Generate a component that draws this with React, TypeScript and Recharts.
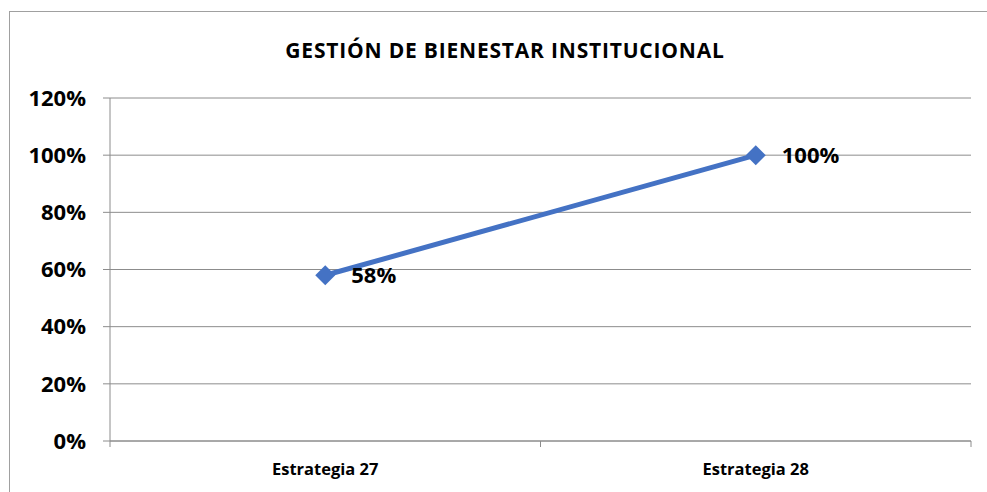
import { LineChart, Line, XAxis, YAxis, CartesianGrid, LabelList } from 'recharts';

const categories = ['Estrategia 27', 'Estrategia 28'];
const values = [0.58, 1.0];
const yTicks = [0, 0.2, 0.4, 0.6, 0.8, 1.0, 1.2];

const data = categories.map((name, i) => ({ name, value: values[i] }));

const FONT = '"Open Sans", "Liberation Sans", sans-serif';
const GRID = '#8c8c8c';
const BLUE = '#4472C4';
const PLOT_W = 861;

const pct = (v: number) => `${Math.round(v * 100)}%`;

const Diamond = (props: any) => {
    const { cx, cy } = props;
    if (cx == null || cy == null) return null;
    const r = 10;
    return <path d={`M${cx},${cy - r}L${cx + r},${cy}L${cx},${cy + r}L${cx - r},${cy}Z`} fill={BLUE} />;
};

const CatTick = (props: any) => {
    const { x, y, payload, index, visibleTicksCount } = props;
    const half = PLOT_W / categories.length / 2;
    return (
        <g>
            <line x1={x - half} y1={y - 8} x2={x - half} y2={y - 2} stroke={GRID} />
            {index === visibleTicksCount - 1 && (
                <line x1={x + half} y1={y - 8} x2={x + half} y2={y - 2} stroke={GRID} />
            )}
            <text x={x} y={y + 26} textAnchor="middle" fontFamily={FONT} fontWeight={700} fontSize={16.5} fill="#000">
                {payload.value}
            </text>
        </g>
    );
};

export default function App() {
    return (
        <div style={{ position: 'relative', width: 987, height: 492, background: '#fff', overflow: 'hidden' }}>
            <style>{'body{margin:0}'}</style>
            <div style={{ position: 'absolute', left: 9, top: 11, width: 1100, height: 600, border: '1px solid #a0a0a0' }} />
            <div style={{ position: 'absolute', left: 9, top: 36, width: 992, textAlign: 'center', fontFamily: FONT, fontWeight: 700, fontSize: 21, letterSpacing: 0.8, color: '#000', lineHeight: 'normal' }}>
                GESTIÓN DE BIENESTAR INSTITUCIONAL
            </div>
            <div style={{ position: 'absolute', left: 0, top: 0 }}>
                <LineChart width={987} height={492} data={data} margin={{ top: 98, right: 16, bottom: 21, left: 0 }}>
                    <CartesianGrid horizontal vertical={false} stroke={GRID} />
                    <XAxis
                        dataKey="name"
                        scale="band"
                        height={30}
                        axisLine={{ stroke: GRID }}
                        tickLine={false}
                        tick={<CatTick />}
                        interval={0}
                    />
                    <YAxis
                        width={110}
                        domain={[0, 1.2]}
                        ticks={yTicks}
                        tickFormatter={pct}
                        axisLine={{ stroke: GRID }}
                        tickLine={{ stroke: GRID }}
                        tickSize={7}
                        tickMargin={17}
                        tick={{ fontFamily: FONT, fontWeight: 700, fontSize: 22, fill: '#000' }}
                        interval={0}
                    />
                    <Line
                        dataKey="value"
                        stroke={BLUE}
                        strokeWidth={5}
                        dot={<Diamond />}
                        activeDot={false}
                        isAnimationActive={false}
                    >
                        <LabelList
                            dataKey="value"
                            position="right"
                            offset={26}
                            formatter={(v: any) => pct(Number(v))}
                            style={{ fontFamily: FONT, fontWeight: 700, fontSize: 22, fill: '#000' }}
                        />
                    </Line>
                </LineChart>
            </div>
        </div>
    );
}
